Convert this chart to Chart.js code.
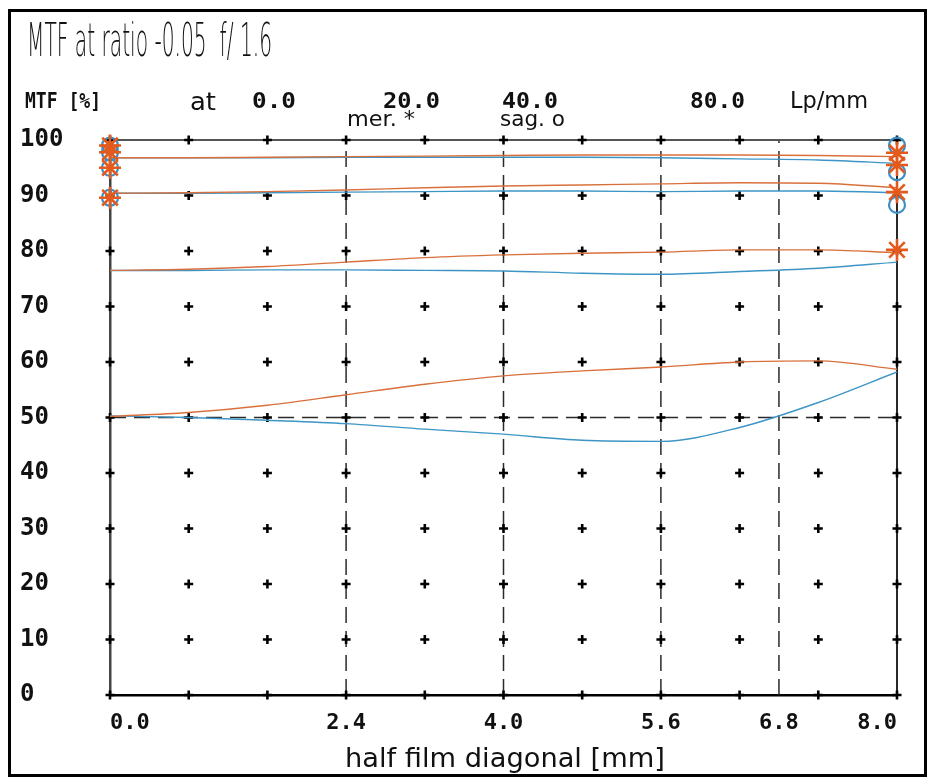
<!DOCTYPE html>
<html>
<head>
<meta charset="utf-8">
<script src="https://cdn.jsdelivr.net/npm/chart.js@4.4.1/dist/chart.umd.min.js"></script>
<style>
html,body{margin:0;padding:0;background:#fff;}
#wrap{width:933px;height:783px;position:relative;}
</style>
</head>
<body>
<div id="wrap"><canvas id="c" width="933" height="783"></canvas></div>
<script>
// ---------- data ----------
const fieldPos = [0, 0.8, 1.6, 2.4, 3.2, 4.0, 4.8, 5.6, 6.4, 7.2, 8.0];
const mer20 = [96.8, 96.8, 96.9, 97.0, 97.1, 97.2, 97.3, 97.3, 97.3, 97.2, 97.0];
const sag20 = [96.8, 96.8, 96.8, 96.9, 96.9, 96.9, 96.9, 96.8, 96.6, 96.4, 95.8];
const mer40 = [90.4, 90.5, 90.7, 91.0, 91.4, 91.7, 91.9, 92.1, 92.3, 92.2, 91.4];
const sag40 = [90.4, 90.4, 90.5, 90.6, 90.7, 90.8, 90.8, 90.7, 90.8, 90.8, 90.5];
const mer80 = [76.5, 76.7, 77.2, 78.0, 78.8, 79.3, 79.6, 79.8, 80.2, 80.2, 79.7];
const sag80 = [76.5, 76.5, 76.6, 76.6, 76.5, 76.4, 76.0, 75.8, 76.3, 76.9, 78.0];
const merLow = [50.2, 50.9, 52.2, 54.1, 56.0, 57.5, 58.4, 59.1, 60.0, 60.2, 58.7];
const sagLow = [50.3, 50.0, 49.5, 48.9, 47.9, 47.0, 45.9, 45.7, 48.2, 52.7, 58.2];

const merMarkerX = [0, 0, 0, 0, 8, 8, 8, 8];
const merMarkerY = [99.0, 97.8, 95.0, 89.6, 97.7, 95.5, 90.6, 80.2];
const sagMarkerX = [0, 0, 0, 0, 8, 8, 8];
const sagMarkerY = [99.0, 97.8, 95.0, 89.6, 99.0, 94.2, 88.3];

const xTickLabels = [0, 2.4, 4.0, 5.6, 6.8, 8.0];
const yTickLabels = [0, 10, 20, 30, 40, 50, 60, 70, 80, 90, 100];
const crossX = [0, 0.8, 1.6, 2.4, 3.2, 4.0, 4.8, 5.6, 6.4, 7.2, 8.0];
const crossY = [0, 10, 20, 30, 40, 50, 60, 70, 80, 90, 100];
const dashedX = [2.4, 4.0, 5.6, 6.8];
const dashedY = [50];

const titleText = 'MTF at ratio -0.05  f/ 1.6';
const headerTexts = ['MTF [%]', 'at', '0.0', '20.0', '40.0', '80.0', 'Lp/mm'];
const legendTexts = ['mer. *', 'sag. o'];
const xAxisTitle = 'half film diagonal [mm]';

// ---------- styling / layout (not data) ----------
const ORANGE = '#d9703c';
const BLUE = '#3d95c6';
const ORANGE_MK = '#e45a1c';
const BLUE_MK = '#3b8fc4';
const textLayout = [
  // [x, baselineY, width, font]
  [27, 56, 245, "200 46px 'DejaVu Sans'"],
  [25, 108, 76, "bold 22px 'DejaVu Sans Mono'"],
  [190, 110, 26, "24px 'DejaVu Sans'"],
  [252, 108, 44, "bold 22px 'DejaVu Sans Mono'"],
  [383, 108, 57, "bold 22px 'DejaVu Sans Mono'"],
  [502, 108, 56, "bold 22px 'DejaVu Sans Mono'"],
  [690, 108, 55, "bold 22px 'DejaVu Sans Mono'"],
  [790, 108, 78, "23px 'DejaVu Sans'"],
  [347, 126, 68, "21px 'DejaVu Sans'"],
  [500, 126, 65, "21px 'DejaVu Sans'"],
  [345, 767, 320, "27px 'DejaVu Sans'"]
];

const pts = (xs, ys) => xs.map((x, i) => ({x: x, y: ys[i]}));

function curve(label, ys, color) {
  return {type: 'line', label: label, data: pts(fieldPos, ys), borderColor: color,
    borderWidth: 1.4, pointRadius: 0, cubicInterpolationMode: 'monotone', fill: false, order: 2};
}

const crossData = [];
crossX.forEach(x => crossY.forEach(y => crossData.push({x: x, y: y})));

const datasets = [];
dashedX.forEach(v => datasets.push({type: 'line', label: 'grid' + v, data: [{x: v, y: 0}, {x: v, y: 100}],
  borderColor: '#2a2a2a', borderWidth: 1.5, borderDash: [16, 8], pointRadius: 0, order: 5}));
dashedY.forEach(v => datasets.push({type: 'line', label: 'gridY' + v, data: [{x: 0, y: v}, {x: 8, y: v}],
  borderColor: '#2a2a2a', borderWidth: 1.5, borderDash: [16, 8], pointRadius: 0, order: 5}));
datasets.push({type: 'line', label: 'top', data: [{x: 0, y: 100}, {x: 8, y: 100}],
  borderColor: '#555555', borderWidth: 2.2, pointRadius: 0, order: 4, clip: false});
datasets.push({type: 'line', label: 'right', data: [{x: 8, y: 0}, {x: 8, y: 100}],
  borderColor: '#111111', borderWidth: 1.8, pointRadius: 0, order: 4, clip: false});
datasets.push({type: 'scatter', label: 'crosses', data: crossData, pointStyle: 'cross',
  pointRadius: 4.5, borderColor: '#000', borderWidth: 2.6, backgroundColor: '#000', order: 3, clip: false});
datasets.push(curve('mer 20', mer20, ORANGE));
datasets.push(curve('sag 20', sag20, BLUE));
datasets.push(curve('mer 40', mer40, ORANGE));
datasets.push(curve('sag 40', sag40, BLUE));
datasets.push(curve('mer 80', mer80, ORANGE));
datasets.push(curve('sag 80', sag80, BLUE));
datasets.push(curve('mer', merLow, ORANGE));
datasets.push(curve('sag', sagLow, BLUE));
datasets.push({type: 'scatter', label: 'sag markers', data: pts(sagMarkerX, sagMarkerY), pointStyle: 'circle',
  pointRadius: 8, borderColor: BLUE_MK, backgroundColor: 'rgba(0,0,0,0)', borderWidth: 2.2, order: 1, clip: false});
datasets.push({type: 'scatter', label: 'mer markers', data: pts(merMarkerX, merMarkerY), pointStyle: 'star',
  pointRadius: 11, borderColor: ORANGE_MK, backgroundColor: ORANGE_MK, borderWidth: 2.6, order: 0, clip: false});

const framePlugin = {
  id: 'frame',
  beforeDraw(chart) {
    const ctx = chart.ctx;
    ctx.save();
    ctx.fillStyle = '#fff';
    ctx.fillRect(0, 0, chart.width, chart.height);
    ctx.strokeStyle = '#000';
    ctx.lineWidth = 3;
    ctx.strokeRect(9.5, 10.5, 916, 765);
    ctx.restore();
  },
  afterDraw(chart) {
    const ctx = chart.ctx;
    const all = [titleText].concat(headerTexts, legendTexts, [xAxisTitle]);
    ctx.save();
    ctx.fillStyle = '#111';
    ctx.textBaseline = 'alphabetic';
    ctx.textAlign = 'left';
    all.forEach((t, i) => {
      const [x, y, w, font] = textLayout[i];
      ctx.font = font;
      const m = ctx.measureText(t).width;
      ctx.save();
      ctx.translate(x, y);
      ctx.scale(w / m, 1);
      ctx.fillText(t, 0, 0);
      ctx.restore();
    });
    ctx.restore();
  }
};

new Chart(document.getElementById('c'), {
  type: 'scatter',
  data: {datasets: datasets},
  options: {
    responsive: false,
    animation: false,
    events: [],
    layout: {padding: {left: 20, right: 36, top: 140, bottom: 0}},
    plugins: {legend: {display: false}, tooltip: {enabled: false}, title: {display: false}},
    scales: {
      x: {
        type: 'linear', min: 0, max: 8,
        grid: {display: false, drawTicks: false},
        border: {display: true, color: '#000', width: 2.5},
        afterBuildTicks: s => { s.ticks = xTickLabels.map(v => ({value: v})); },
        afterFit: s => { s.height = 88; },
        ticks: {
          align: 'inner', padding: 15, color: '#111', maxRotation: 0, autoSkip: false,
          font: {family: "'DejaVu Sans Mono'", size: 22, weight: 'bold'},
          callback: v => Number(v).toFixed(1)
        }
      },
      y: {
        type: 'linear', min: 0, max: 100,
        grid: {display: false, drawTicks: false},
        border: {display: true, color: '#444', width: 2.5},
        afterBuildTicks: s => { s.ticks = yTickLabels.map(v => ({value: v})); },
        afterFit: s => { s.width = 90; },
        ticks: {
          crossAlign: 'far', padding: 0, color: '#111',
          font: {family: "'DejaVu Sans Mono'", size: 24, weight: 'bold'},
          callback: v => String(v)
        }
      }
    }
  },
  plugins: [framePlugin]
});
</script>
</body>
</html>
